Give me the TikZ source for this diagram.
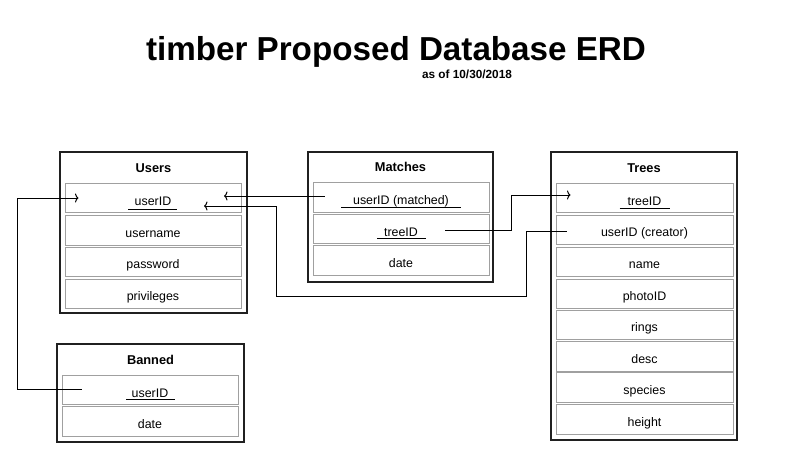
\documentclass[tikz,border=0pt]{standalone}
\usepackage{fontspec}
\setmainfont{Liberation Sans}
\usetikzlibrary{arrows.meta,calc}
\definecolor{rowgray}{HTML}{A0A0A0}
\definecolor{boxblack}{HTML}{202020}
\tikzset{
  tbl/.style={draw=boxblack, line width=1.6pt, fill=white, inner sep=0pt},
  fld/.style={draw=rowgray, line width=1pt, inner sep=0pt, minimum width=176pt, minimum height=29.5pt, text height=13pt, text depth=0pt, font=\fontsize{12.4}{14}\selectfont},
  keyfld/.style={text height=15pt},
  hdr/.style={font=\bfseries\fontsize{12.8}{14}\selectfont, inner sep=0pt},
  ul/.style={line width=0.9pt, draw=black},
  conn/.style={line width=1pt, draw=black},
  tip/.style={-{Computer Modern Rightarrow[length=3.5pt,width=9pt]}},
}
\begin{document}
\begin{tikzpicture}[x=1pt,y=-1pt]
\useasboundingbox (0,0) rectangle (792,469);
\fill[white] (0,0) rectangle (792,469);
% title
\node[font=\bfseries\fontsize{33.2}{38}\selectfont, inner sep=0pt] (title) at (396,52) {timber Proposed Database ERD};
\node[font=\bfseries\fontsize{11.8}{13}\selectfont, inner sep=0pt] (sub) at (467,74) {as of 10/30/2018};
% Users
\node[tbl, minimum width=187pt, minimum height=161pt] (users) at (153.5,232.5) {};
\node[hdr] (usersh) at (153.5,168) {Users};
\node[fld, keyfld] (u1) at (153,198) {userID};
\node[fld] (u2) at (153,230.5) {username};
\node[fld] (u3) at (153,262) {password};
\node[fld] (u4) at (153,294) {privileges};
% Matches
\node[tbl, minimum width=185pt, minimum height=130pt] (matches) at (400.5,217) {};
\node[hdr] (matchesh) at (400.5,167) {Matches};
\node[fld] (m1) at (401,197.5) {userID (matched)};
\node[fld, keyfld] (m2) at (401,229) {treeID};
\node[fld] (m3) at (401,260.5) {date};
% Trees
\node[tbl, minimum width=186pt, minimum height=288pt] (trees) at (644,296) {};
\node[hdr] (treesh) at (644,168) {Trees};
\node[fld, keyfld, minimum width=177pt] (t1) at (644.5,198) {treeID};
\node[fld, minimum width=177pt] (t2) at (644.5,230) {userID (creator)};
\node[fld, minimum width=177pt] (t3) at (644.5,262) {name};
\node[fld, minimum width=177pt] (t4) at (644.5,294) {photoID};
\node[fld, minimum width=177pt] (t5) at (644.5,325) {rings};
\node[fld, minimum width=177pt] (t6) at (644.5,356.5) {desc};
\node[fld, minimum width=177pt] (t7) at (644.5,387.5) {species};
\node[fld, minimum width=177pt] (t8) at (644.5,419.5) {height};
% Banned
\node[tbl, minimum width=187pt, minimum height=98pt] (banned) at (150.5,393) {};
\node[hdr] (bannedh) at (150.5,360) {Banned};
\node[fld, keyfld] (b1) at (150,390) {userID};
\node[fld] (b2) at (150,421.5) {date};
% key underlines
\draw[ul] ($(u1.center)+(-25,11)$) -- ($(u1.center)+(24,11)$);
\draw[ul] ($(m1.center)+(-60,10)$) -- ($(m1.center)+(60,10)$);
\draw[ul] ($(m2.center)+(-24,9)$) -- ($(m2.center)+(25,9)$);
\draw[ul] ($(t1.center)+(-25,10)$) -- ($(t1.center)+(25,10)$);
\draw[ul] ($(b1.center)+(-24,9)$) -- ($(b1.center)+(25,9)$);
% connectors
\coordinate (bs) at ($(b1.west)+(20,-1)$);
\coordinate (ue1) at ($(u1.west)+(14,0)$);
\draw[conn,tip] (bs) -- ++(-64,0) |- (ue1);
\coordinate (ms) at ($(m1.west)+(12,-1.5)$);
\coordinate (ue2) at ($(u1.center)+(71,-2)$);
\draw[conn,tip] (ms) -- (ue2);
\coordinate (ts) at ($(t2.west)+(11,1)$);
\coordinate (ue3) at ($(u1.center)+(51,8)$);
\draw[conn,tip] (ts) -- ++(-40,0) |- ($(ue3)+(72,90)$) -- ($(ue3)+(72,0)$) -- (ue3);
\coordinate (mt) at ($(m2.center)+(44,1)$);
\coordinate (te) at ($(t1.west)+(15,-3)$);
\draw[conn,tip] (mt) -- ++(66,0) |- (te);
\end{tikzpicture}
\end{document}
